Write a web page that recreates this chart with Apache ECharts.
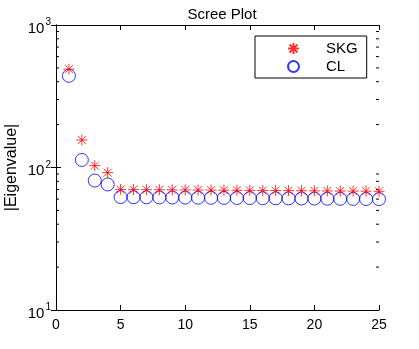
<!doctype html>
<html lang="en">
<head>
    <meta charset="UTF-8">
    <title>Scree Plot</title>
</head>
<body style="margin:0">
    <script src="https://cdn.jsdelivr.net/npm/echarts@6/dist/echarts.min.js"></script>
    <div id="scree" style="width: 419px; height: 349px"></div>

    <script>
        // component index
        var component = [1, 2, 3, 4, 5, 6, 7, 8, 9, 10, 11, 12, 13, 14, 15, 16, 17, 18, 19, 20, 21, 22, 23, 24, 25];
        // |eigenvalue|
        var skg = [490, 156, 103, 92, 70.2, 70.0, 69.9, 69.8, 69.7, 69.6, 69.5, 69.4, 69.3, 69.2, 69.1, 69.0, 68.9, 68.8, 68.7, 68.6, 68.5, 68.4, 68.3, 68.2, 68.1];
        var cl = [440, 113, 81, 76, 62.0, 61.9, 61.8, 61.7, 61.6, 61.5, 61.4, 61.3, 61.2, 61.1, 61.0, 60.9, 60.8, 60.7, 60.6, 60.5, 60.4, 60.3, 60.2, 60.1, 60.0];
        var minorTicks = [20, 30, 40, 50, 60, 70, 80, 90, 200, 300, 400, 500, 600, 700, 800, 900];

        var star = 'path://M0,-5L0,5M-5,0L5,0M-3.6,-3.6L3.6,3.6M-3.6,3.6L3.6,-3.6';
        var font = 'Liberation Sans';

        var chart = echarts.init(document.getElementById('scree'));

        var option = {
            animation: false,
            backgroundColor: '#fff',
            textStyle: { fontFamily: font },
            title: {
                text: 'Scree Plot',
                left: 217, top: 2, textAlign: 'center',
                textStyle: { fontFamily: font, fontSize: 15, fontWeight: 'normal', color: '#000' }
            },
            grid: { left: 56, right: 40, top: 25, bottom: 39, containLabel: false, outerBoundsMode: 'none' },
            legend: {
                orient: 'vertical',
                left: 255, top: 36,
                padding: [4, 9, 3, 32],
                itemWidth: 11, itemHeight: 11, itemGap: 1,
                borderColor: '#000', borderWidth: 1,
                backgroundColor: '#fff',
                textStyle: { fontFamily: font, fontSize: 15, lineHeight: 17, color: '#000', padding: [0, 0, 0, 22] },
                data: ['SKG', 'CL']
            },
            xAxis: [{
                type: 'value', min: 0, max: 25, interval: 5,
                axisLine: { lineStyle: { color: '#000' } },
                axisTick: { inside: true, length: 5, lineStyle: { color: '#000' } },
                axisLabel: { color: '#000', fontSize: 14, margin: 8, fontFamily: font },
                splitLine: { show: false }
            }, {
                type: 'value', min: 0, max: 25, interval: 5, position: 'top',
                axisLine: { lineStyle: { color: '#000' } },
                axisTick: { inside: true, length: 5, lineStyle: { color: '#000' } },
                axisLabel: { show: false },
                splitLine: { show: false }
            }],
            yAxis: [{
                type: 'log', logBase: 10, min: 10, max: 1000,
                name: '|Eigenvalue|', nameLocation: 'middle', nameGap: 36, nameMoveOverlap: false,
                nameTextStyle: { color: '#000', fontSize: 16, fontFamily: font },
                axisLine: { lineStyle: { color: '#000' } },
                axisTick: { inside: true, length: 5, lineStyle: { color: '#000' } },
                axisLabel: {
                    color: '#000', fontSize: 14, margin: 5, fontFamily: font,
                    verticalAlign: 'middle',
                    formatter: function (v) {
                        return '{b|10}{s|' + Math.round(Math.log10(v)) + '}';
                    },
                    rich: {
                        b: { fontSize: 15, lineHeight: 15, color: '#000', fontFamily: font, padding: [7, 0, 0, 0] },
                        s: { fontSize: 10, lineHeight: 10, color: '#000', fontFamily: font, verticalAlign: 'top', padding: [0, 0, 0, 1] }
                    }
                },
                splitLine: { show: false }
            }, {
                type: 'log', logBase: 10, min: 10, max: 1000, position: 'right',
                axisLine: { lineStyle: { color: '#000' } },
                axisTick: { inside: true, length: 5, lineStyle: { color: '#000' } },
                axisLabel: { show: false },
                splitLine: { show: false }
            }],
            series: [{
                name: 'SKG',
                type: 'scatter',
                symbol: star,
                symbolSize: 11,
                itemStyle: { color: 'rgba(0,0,0,0)', borderColor: '#ff0000', borderWidth: 1 },
                data: component.map(function (c, i) { return [c, skg[i]]; }),
                z: 3
            }, {
                name: 'CL',
                type: 'scatter',
                symbol: 'circle',
                symbolSize: 13,
                itemStyle: { color: 'rgba(0,0,0,0)', borderColor: '#0000ff', borderWidth: 1 },
                data: component.map(function (c, i) { return [c, cl[i]]; }),
                z: 2
            }, {
                // log minor ticks on left and right axis
                type: 'custom',
                silent: true,
                data: minorTicks.map(function (v) { return [0, v]; }),
                renderItem: function (params, api) {
                    var y = api.coord([0, api.value(1)])[1];
                    var r = params.coordSys;
                    var st = { stroke: '#000', lineWidth: 1 };
                    return {
                        type: 'group',
                        children: [
                            { type: 'line', shape: { x1: r.x, y1: y, x2: r.x + 3, y2: y }, style: st },
                            { type: 'line', shape: { x1: r.x + r.width - 3, y1: y, x2: r.x + r.width, y2: y }, style: st }
                        ]
                    };
                }
            }]
        };

        chart.setOption(option);
    </script>
</body>
</html>
